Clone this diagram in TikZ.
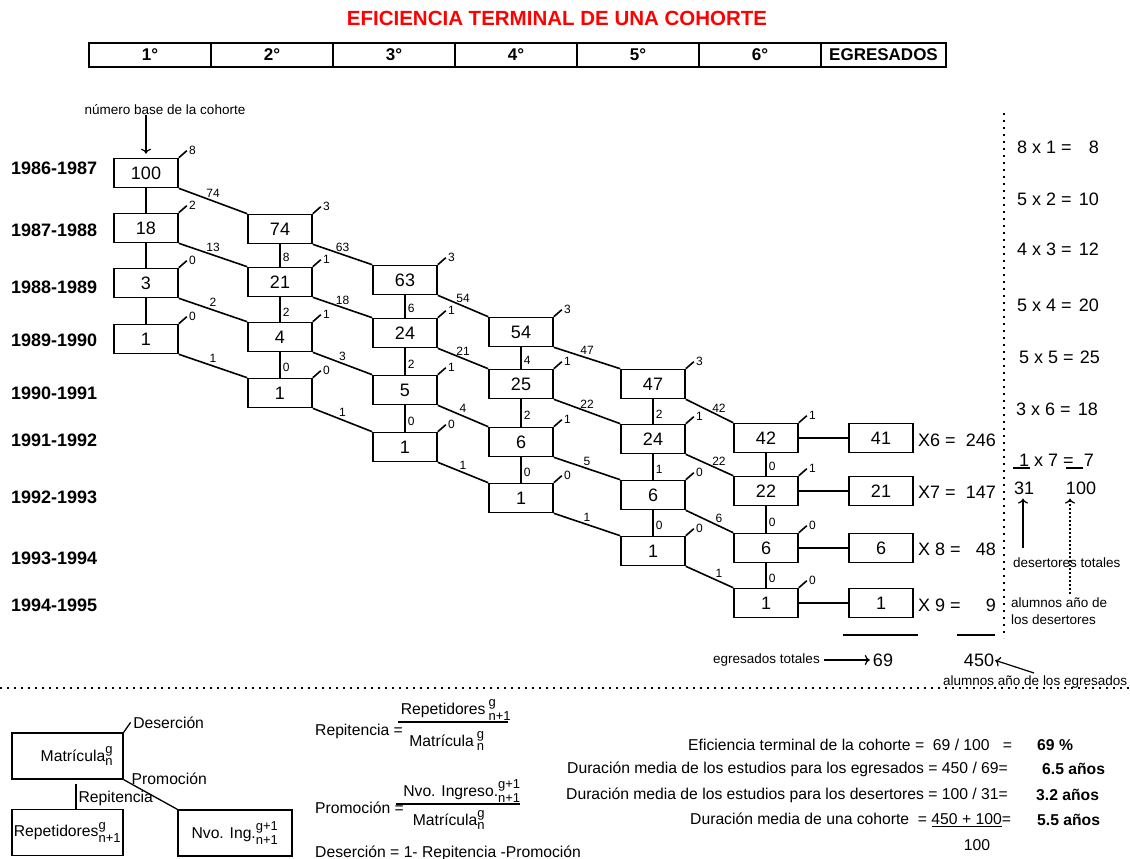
\documentclass[tikz,border=0pt]{standalone}
\usepackage{fontspec}
\setmainfont{Liberation Sans}
\usepackage{amsmath}
\usetikzlibrary{positioning,arrows.meta}
\newcommand{\efSize}[1]{\fontsize{#1}{#1}\selectfont}
\newcommand{\efSupSub}[2]{\ensuremath{^{\mbox{\efSize{13}#1}}_{\mbox{\efSize{13}#2}}}}
\newcommand{\efBox}[5]{%
  \node[cbox] (#1) at (#2,#3) {#4};
  \draw[conn] (#1.north east) -- ++(8,-7) node[drop] {#5};}

\begin{document}
\begin{tikzpicture}[x=1pt,y=-1pt,>={To[length=5pt,width=10pt]},
  cbox/.style={draw, line width=1.6pt, minimum width=64pt, minimum height=29pt, inner sep=0pt, font=\efSize{18}},
  conn/.style={line width=1.6pt},
  drop/.style={anchor=west, inner sep=1.5pt, font=\efSize{12}},
  vlbl/.style={pos=0.6, anchor=west, inner sep=2pt, font=\efSize{12}},
  dlbl/.style={pos=0.5, anchor=south, inner sep=2.5pt, font=\efSize{12}},
  yearlbl/.style={anchor=west, inner sep=0pt, font=\bfseries\efSize{18}},
  hcell/.style={draw, line width=1.3pt, minimum width=122pt, minimum height=24pt, inner sep=0pt, outer sep=0pt, font=\bfseries\efSize{17}},
  eqtxt/.style={inner sep=0pt, font=\efSize{18}},
  note/.style={inner sep=0pt, font=\efSize{13.5}},
  ftxt/.style={inner sep=0pt, font=\efSize{15.7}},
  lbox/.style={draw, line width=1.3pt, minimum height=46pt, inner sep=2pt, font=\efSize{15.7}},
  bar/.style={line width=1.3pt},
  dotline/.style={line width=1.8pt, dash pattern=on 1.8pt off 5.2pt}]
\useasboundingbox (0,0) rectangle (1130,859);

% title and header row
\node[inner sep=0pt, text=red, font=\bfseries\efSize{20.5}] (title) at (557,18) {EFICIENCIA TERMINAL DE UNA COHORTE};
\node[hcell] (h1) at (150,55) {1°};
\node[hcell, anchor=west] (h2) at (h1.east) {2°};
\node[hcell, anchor=west] (h3) at (h2.east) {3°};
\node[hcell, anchor=west] (h4) at (h3.east) {4°};
\node[hcell, anchor=west] (h5) at (h4.east) {5°};
\node[hcell, anchor=west] (h6) at (h5.east) {6°};
\node[hcell, anchor=west, minimum width=125pt, line width=2pt] (h7) at (h6.east) {EGRESADOS};

% school years
\node[yearlbl] (y86) at (11,168) {1986-1987};
\node[yearlbl] (y87) at (11,230) {1987-1988};
\node[yearlbl] (y88) at (11,287) {1988-1989};
\node[yearlbl] (y89) at (11,340) {1989-1990};
\node[yearlbl] (y90) at (11,393) {1990-1991};
\node[yearlbl] (y91) at (11,440) {1991-1992};
\node[yearlbl] (y92) at (11,497) {1992-1993};
\node[yearlbl] (y93) at (11,558) {1993-1994};
\node[yearlbl] (y94) at (11,605) {1994-1995};

% cohort boxes: name, x, y, students, dropouts
\efBox{c1r0}{146}{173}{100}{8}
\efBox{c1r1}{146}{228}{18}{2}
\efBox{c1r2}{146}{283}{3}{0}
\efBox{c1r3}{146}{339}{1}{0}
\efBox{c2r0}{280}{229}{74}{3}
\efBox{c2r1}{280}{282}{21}{1}
\efBox{c2r2}{280}{337}{4}{1}
\efBox{c2r3}{280}{393}{1}{0}
\efBox{c3r0}{405}{280}{63}{3}
\efBox{c3r1}{405}{333}{24}{1}
\efBox{c3r2}{405}{390}{5}{1}
\efBox{c3r3}{405}{447}{1}{0}
\efBox{c4r0}{521}{332}{54}{3}
\efBox{c4r1}{521}{384}{25}{1}
\efBox{c4r2}{521}{442}{6}{1}
\efBox{c4r3}{521}{498}{1}{0}
\efBox{c5r0}{653}{384}{47}{3}
\efBox{c5r1}{653}{439}{24}{1}
\efBox{c5r2}{653}{495}{6}{0}
\efBox{c5r3}{653}{551}{1}{0}
\efBox{c6r0}{766}{438}{42}{1}
\efBox{c6r1}{766}{491}{22}{1}
\efBox{c6r2}{766}{548}{6}{0}
\efBox{c6r3}{766}{603}{1}{0}
\node[cbox] (e0) at (881,438) {41};
\node[cbox] (e1) at (881,491) {21};
\node[cbox] (e2) at (881,548) {6};
\node[cbox] (e3) at (881,603) {1};

% repeaters
\draw[conn] (c1r0) -- (c1r1);
\draw[conn] (c1r1) -- (c1r2);
\draw[conn] (c1r2) -- (c1r3);
\draw[conn] (c2r0) -- node[vlbl] {8} (c2r1);
\draw[conn] (c2r1) -- node[vlbl] {2} (c2r2);
\draw[conn] (c2r2) -- node[vlbl] {0} (c2r3);
\draw[conn] (c3r0) -- node[vlbl] {6} (c3r1);
\draw[conn] (c3r1) -- node[vlbl] {2} (c3r2);
\draw[conn] (c3r2) -- node[vlbl] {0} (c3r3);
\draw[conn] (c4r0) -- node[vlbl] {4} (c4r1);
\draw[conn] (c4r1) -- node[vlbl] {2} (c4r2);
\draw[conn] (c4r2) -- node[vlbl] {0} (c4r3);
\draw[conn] (c5r0) -- node[vlbl] {2} (c5r1);
\draw[conn] (c5r1) -- node[vlbl] {1} (c5r2);
\draw[conn] (c5r2) -- node[vlbl] {0} (c5r3);
\draw[conn] (c6r0) -- node[vlbl] {0} (c6r1);
\draw[conn] (c6r1) -- node[vlbl] {0} (c6r2);
\draw[conn] (c6r2) -- node[vlbl] {0} (c6r3);

% promoted
\draw[conn] (c1r0.south east) -- node[dlbl] {74} (c2r0.north west);
\draw[conn] (c1r1.south east) -- node[dlbl] {13} (c2r1.north west);
\draw[conn] (c1r2.south east) -- node[dlbl] {2} (c2r2.north west);
\draw[conn] (c1r3.south east) -- node[dlbl] {1} (c2r3.north west);
\draw[conn] (c2r0.south east) -- node[dlbl] {63} (c3r0.north west);
\draw[conn] (c2r1.south east) -- node[dlbl] {18} (c3r1.north west);
\draw[conn] (c2r2.south east) -- node[dlbl] {3} (c3r2.north west);
\draw[conn] (c2r3.south east) -- node[dlbl] {1} (c3r3.north west);
\draw[conn] (c3r0.south east) -- node[dlbl] {54} (c4r0.north west);
\draw[conn] (c3r1.south east) -- node[dlbl] {21} (c4r1.north west);
\draw[conn] (c3r2.south east) -- node[dlbl] {4} (c4r2.north west);
\draw[conn] (c3r3.south east) -- node[dlbl] {1} (c4r3.north west);
\draw[conn] (c4r0.south east) -- node[dlbl] {47} (c5r0.north west);
\draw[conn] (c4r1.south east) -- node[dlbl] {22} (c5r1.north west);
\draw[conn] (c4r2.south east) -- node[dlbl] {5} (c5r2.north west);
\draw[conn] (c4r3.south east) -- node[dlbl] {1} (c5r3.north west);
\draw[conn] (c5r0.south east) -- node[dlbl, pos=0.7] {42} (c6r0.north west);
\draw[conn] (c5r1.south east) -- node[dlbl, pos=0.7] {22} (c6r1.north west);
\draw[conn] (c5r2.south east) -- node[dlbl, pos=0.7] {6} (c6r2.north west);
\draw[conn] (c5r3.south east) -- node[dlbl, pos=0.7] {1} (c6r3.north west);

% graduates
\draw[conn] (c6r0) -- (e0);
\draw[conn] (c6r1) -- (e1);
\draw[conn] (c6r2) -- (e2);
\draw[conn] (c6r3) -- (e3);
\node[eqtxt, anchor=west] (x6) at (918,440) {X6 =};
\node[eqtxt, anchor=east] (v6) at (996,440) {246};
\node[eqtxt, anchor=west] (x7) at (918,492) {X7 =};
\node[eqtxt, anchor=east] (v7) at (996,492) {147};
\node[eqtxt, anchor=west] (x8) at (918,549) {X 8 =};
\node[eqtxt, anchor=east] (v8) at (996,549) {48};
\node[eqtxt, anchor=west] (x9) at (918,605) {X 9 =};
\node[eqtxt, anchor=east] (v9) at (996,605) {9};
\draw[line width=1.5pt] (843,635) -- (918,635);
\draw[line width=1.5pt] (957,635) -- (995,635);
\node[note, anchor=west] (egtot) at (713,660) {egresados totales};
\node[eqtxt] (n69) at (883,660) {69};
\node[eqtxt] (n450) at (979,660) {450};
\draw[->, line width=1.2pt, shorten <=4pt, shorten >=3pt] (egtot) -- (n69);
\node[note, anchor=west] (aeg) at (943,682) {alumnos año de los egresados};
\coordinate (aegtip) at (1034,673);
\draw[->, line width=1.2pt, shorten >=1pt] (aegtip) -- (n450.east);

% base of the cohort
\node[note] (nbase) at (165,110) {número base de la cohorte};
\draw[->, line width=1.2pt, shorten >=4pt] (nbase.south -| c1r0) -- (c1r0.north);

% dropouts times years
\draw[dotline] (1004,113) -- (1004,638);
\node[eqtxt, anchor=west] (m1) at (1017,147) {8 x 1 =};
\node[eqtxt, anchor=east] (p1) at (1099,147) {8};
\node[eqtxt, anchor=west] (m2) at (1017,199) {5 x 2 =};
\node[eqtxt, anchor=east] (p2) at (1099,199) {10};
\node[eqtxt, anchor=west] (m3) at (1017,249) {4 x 3 =};
\node[eqtxt, anchor=east] (p3) at (1099,249) {12};
\node[eqtxt, anchor=west] (m4) at (1017,305) {5 x 4 =};
\node[eqtxt, anchor=east] (p4) at (1099,305) {20};
\node[eqtxt, anchor=west] (m5) at (1019,357) {5 x 5 =};
\node[eqtxt, anchor=east] (p5) at (1100,357) {25};
\node[eqtxt, anchor=west] (m6) at (1016,409) {3 x 6 =};
\node[eqtxt, anchor=east] (p6) at (1098,409) {18};
\node[eqtxt, anchor=west] (m7) at (1019,460) {1 x 7 =};
\node[eqtxt, anchor=east] (p7) at (1094,460) {7};
\draw[line width=1.2pt] (1013,468) -- (1030,468);
\draw[line width=1.2pt] (1066,468) -- (1083,468);
\node[eqtxt] (n31) at (1024,488) {31};
\node[eqtxt] (n100) at (1081,488) {100};
\node[note, anchor=west] (destot) at (1013,563) {desertores totales};
\coordinate (destip) at (1023,548);
\draw[->, line width=1.2pt, shorten >=4pt] (destip) -- (destip |- n31.south);
\node[note, anchor=west, align=left, font=\fontsize{13.5}{17}\selectfont] (aldes) at (1011,611) {alumnos año de\\los desertores};
\coordinate (aldestip) at (1070,594);
\draw[->, line width=1.2pt, dash pattern=on 2pt off 2pt, shorten >=4pt] (aldestip) -- (aldestip |- n100.south);

\draw[dotline] (0,688) -- (1130,688);

% flow of one grade
\node[lbox, minimum width=111pt, text width=91pt, align=right, inner xsep=10pt] (matr) at (67.5,756) {Matrícula\efSupSub{g}{n}};
\node[lbox, minimum width=111pt] (rept) at (67.5,832.5) {Repetidores\efSupSub{g}{n+1}};
\node[lbox, minimum width=114pt] (nvo) at (235,833) {Nvo. Ing.\efSupSub{g+1}{n+1}};
\draw[line width=1.3pt] (matr.north east) -- ++(7,-10) node[ftxt, anchor=west, inner sep=2pt] (deser) {Deserción};
\draw[line width=1.3pt] (matr.south east) -- node[ftxt, pos=0.12, anchor=west, yshift=4pt, inner sep=1pt] (promo) {Promoción} (nvo.north west);
\draw[line width=1.3pt, shorten <=4pt] ([xshift=8.5pt]matr.south) -- node[ftxt, pos=0.65, anchor=west, inner sep=2pt] (repit) {Repitencia} ([xshift=8.5pt]rept.north);

% rates
\node[ftxt, anchor=west] (repl) at (315,731) {Repitencia =};
\draw[bar] (398,722) -- (508,722);
\node[ftxt] (repn) at (456,710) {Repetidores\hspace{3pt}\efSupSub{g}{n+1}};
\node[ftxt] (repd) at (447,741) {Matrícula\hspace{3pt}\efSupSub{g}{n}};
\node[ftxt, anchor=west] (prol) at (315,808) {Promoción =};
\draw[bar] (396,804) -- (520,804);
\node[ftxt] (pron) at (462,791) {Nvo. Ingreso.\efSupSub{g+1}{n+1}};
\node[ftxt] (prod) at (449,820) {Matrícula\efSupSub{g}{n}};
\node[ftxt, anchor=west] (desl) at (315,853) {Deserción = 1- Repitencia -Promoción};

% results
\node[ftxt, anchor=west] (ef) at (688,745) {Eficiencia terminal de la cohorte =\ \ 69 / 100\ \ \ =};
\node[ftxt, anchor=west, font=\bfseries\efSize{15.7}] (efv) at (1037,745) {69 \%};
\node[ftxt, anchor=west] (dme) at (567,769) {Duración media de los estudios para los egresados = 450 / 69=};
\node[ftxt, anchor=west, font=\bfseries\efSize{15.7}] (dmev) at (1042,769) {6.5 años};
\node[ftxt, anchor=west] (dmd) at (566,795) {Duración media de los estudios para los desertores = 100 / 31=};
\node[ftxt, anchor=west, font=\bfseries\efSize{15.7}] (dmdv) at (1036,795) {3.2 años};
\node[ftxt, anchor=west] (dmc) at (690,820) {Duración media de una cohorte\ \ = \underline{450 + 100}=};
\node[ftxt, anchor=west, font=\bfseries\efSize{15.7}] (dmcv) at (1037,820) {5.5 años};
\node[ftxt] (dmcd) at (977,845) {100};
\end{tikzpicture}
\end{document}
